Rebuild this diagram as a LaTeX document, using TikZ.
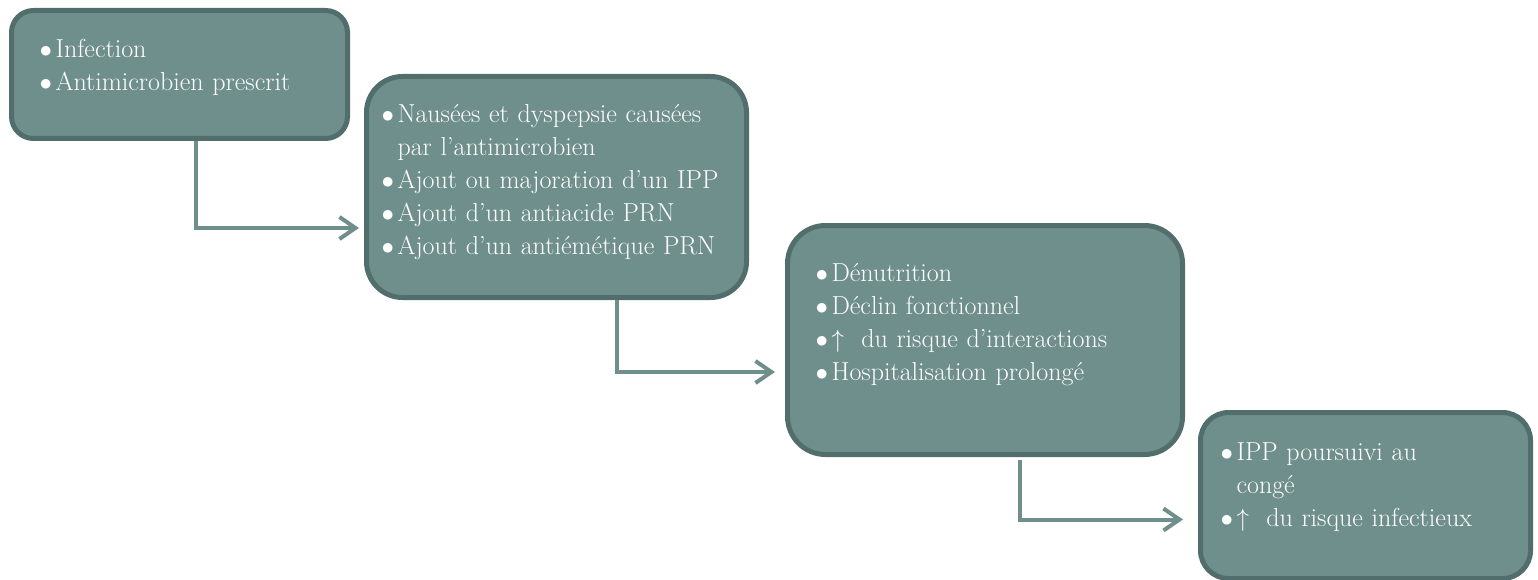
\documentclass[tikz,border=0pt]{standalone}
\usetikzlibrary{arrows.meta}

\definecolor{boxfill}{RGB}{111,143,141}
\definecolor{boxline}{RGB}{82,110,108}

\newcommand{\puce}{\makebox[16pt][l]{$\bullet$}}
\newcommand{\suite}{\hspace*{16pt}}
\newcommand{\marge}[1]{\par\vspace{#1}}

\tikzstyle{stepbox} = [draw = boxline, fill = boxfill, line width = 5pt, text = white,
	anchor = north west, align = left, inner xsep = 28pt, inner ysep = 0pt,
	font = \fontsize{26}{33}\selectfont]
\tikzstyle{flow} = [draw = boxfill, line width = 4pt, -{Straight Barb[length=16pt, width=22pt]}]

\begin{document}
\begin{tikzpicture}[x = 1pt, y = -1pt]
			\useasboundingbox (0,0) rectangle (1538,580);
			\node[stepbox, rounded corners = 22pt, minimum width = 336pt, minimum height = 128pt,
				text width = 280pt] (A) at (9,8)
				{\puce Infection\\ \puce Antimicrobien prescrit\marge{14pt}};
			\node[stepbox, rounded corners = 36pt, minimum width = 380pt, minimum height = 221pt,
				text width = 350pt, inner xsep = 15pt] (B) at (364,74)
				{\puce Naus\'ees et dyspepsie caus\'ees\\ \suite par l'antimicrobien\\
				 \puce Ajout ou majoration d'un IPP\\ \puce Ajout d'un antiacide PRN\\
				 \puce Ajout d'un anti\'em\'etique PRN\marge{10pt}};
			\node[stepbox, rounded corners = 38pt, minimum width = 395pt, minimum height = 229pt,
				text width = 339pt] (C) at (785,223)
				{\puce D\'enutrition\\ \puce D\'eclin fonctionnel\\
				 \puce$\uparrow$\ \ du risque d'interactions\\ \puce Hospitalisation prolong\'e\marge{30pt}};
			\node[stepbox, rounded corners = 28pt, minimum width = 330pt, minimum height = 166pt,
				text width = 290pt, inner xsep = 20pt] (D) at (1198,410)
				{\puce IPP poursuivi au\\ \suite cong\'e\\ \puce$\uparrow$\ \ du risque infectieux\marge{16pt}};
			% coudes entre les etapes
			\path[flow] ([xshift=16pt]A.south) |- ([xshift=-5pt, yshift=-41pt]B.west);
			\path[flow] ([xshift=60pt]B.south) |- ([xshift=-10pt, yshift=-32pt]C.west);
			\path[flow] ([xshift=35pt, yshift=-3pt]C.south) |- ([xshift=-15pt, yshift=-24pt]D.west);
		\end{tikzpicture}
\end{document}
